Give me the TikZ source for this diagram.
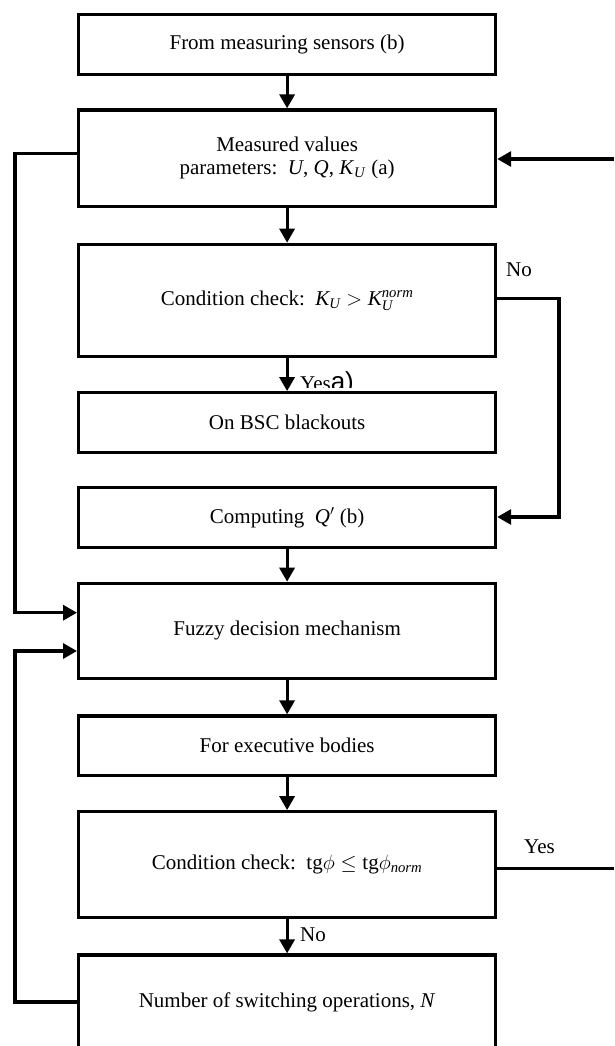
\documentclass[tikz,border=0pt]{standalone}
\usepackage{amsmath}
\usepackage{fontspec}
\setmainfont{Liberation Serif}
\newfontfamily\arialfont{Liberation Sans}
\usetikzlibrary{arrows.meta}
\begin{document}
\begin{tikzpicture}[x=1pt,y=-1pt,
  box/.style={draw,line width=3.2pt,fill=white,minimum width=417pt,inner sep=0pt,align=center,font=\fontsize{21}{23}\selectfont},
  conn/.style={line width=3.2pt,-{Triangle[length=14pt,width=15pt]}},
  plainline/.style={line width=3.2pt},
  lbl/.style={inner sep=0pt,anchor=base west,font=\fontsize{21}{23}\selectfont}]
\useasboundingbox (0,0) rectangle (614,1046);
\fill[white] (0,0) rectangle (614,1046);
% boxes
\node[box,minimum height=60pt] (B1) at (287.1,44.3) {From measuring sensors (b)};
\node[box,minimum height=96.7pt] (B2) at (287.1,158.3) {Measured values\\parameters:\enspace\textit{U}, \textit{Q}, \textit{K}\textsubscript{\textit{U}} (a)};
\node[box,minimum height=112.4pt] (B3) at (287.1,300.5) {Condition check:\enspace $\textit{K}_{\textit{U}} > \textit{K}_{\textit{U}}^{\textit{norm}}$};
\node[box,minimum height=60pt] (B4) at (287.1,422.7) {On BSC blackouts};
\node[box,minimum height=60pt] (B5) at (287.1,517.7) {Computing\enspace$\textit{Q}'$ (b)};
\node[box,minimum height=95pt] (B6) at (287.1,630.8) {Fuzzy decision mechanism};
\node[box,minimum height=59.7pt] (B7) at (287.1,745.8) {For executive bodies};
\node[box,minimum height=105.6pt] (B8) at (287.1,864.5) {Condition check:\enspace tg$\phi \le {}$tg$\phi_{\textit{norm}}$};
\node[box,minimum height=94pt] (B9) at (287.1,1002) {Number of switching operations, \textit{N}};
% labels
\node[lbl] (no1) at (506,276.7) {No};
\node[lbl] (yes2) at (524,853.3) {Yes};
\node[lbl] (no2) at (300,941.7) {No};
\begin{scope}
\clip (290,360) rectangle (380,387.5);
\node[lbl] (yes1) at (300,390) {Yes{\arialfont\fontsize{26}{28}\selectfont a)}};
\end{scope}
% vertical arrows
\draw[conn] (B1) -- (B2);
\draw[conn] (B2) -- (B3);
\draw[conn] (B3) -- (B4);
\draw[conn] (B5) -- (B6);
\draw[conn] (B6) -- (B7);
\draw[conn] (B7) -- (B8);
\draw[conn] (B8) -- (B9);
% right side
\coordinate (r1) at (614,159);
\draw[conn] (r1) -- (B2.east |- r1);
\coordinate (r2) at (559,517);
\draw[conn] ([yshift=2.2pt]B3.east) -| (r2) -- (B5.east |- r2);
\coordinate (r3) at (614,868.3);
\draw[plainline] ([yshift=-3.8pt]B8.east) -- (r3);
% left side
\coordinate (l1) at (15,612.7);
\draw[conn] ([yshift=5pt]B2.west) -| (l1) -- (B6.west |- l1);
\coordinate (l2) at (15,651);
\draw[conn] (B9.west) -| (l2) -- (B6.west |- l2);
\end{tikzpicture}
\end{document}
